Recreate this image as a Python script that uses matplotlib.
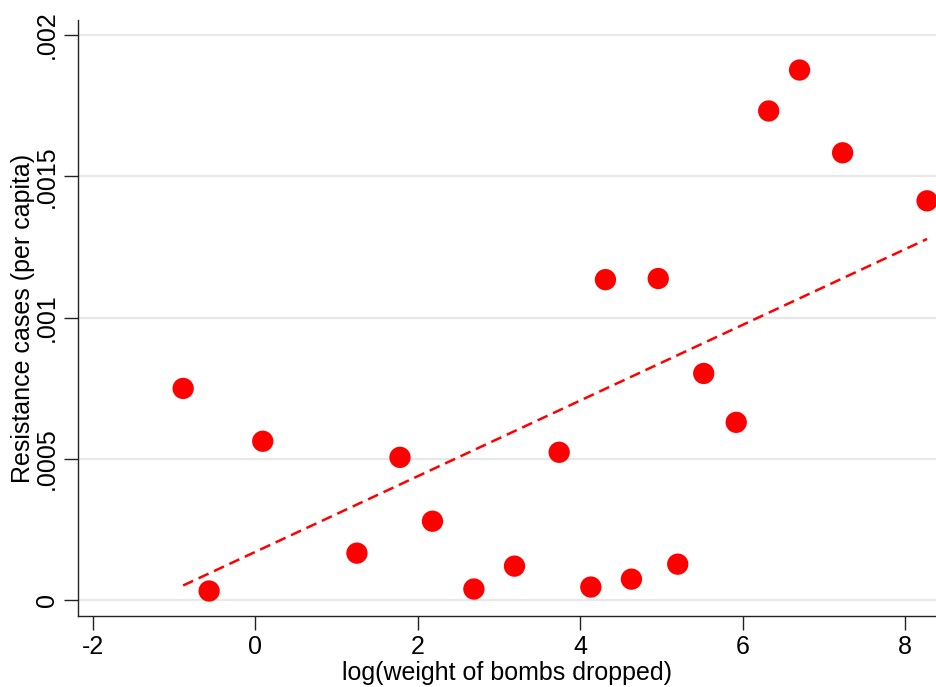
import matplotlib
matplotlib.use("Agg")
import matplotlib.pyplot as plt

# log(weight of bombs dropped) vs resistance cases per capita
log_bombs = [-0.89, -0.57, 0.09, 1.25, 1.78, 2.18, 2.69, 3.19, 3.74, 4.13,
             4.31, 4.63, 4.96, 5.20, 5.52, 5.92, 6.32, 6.70, 7.23, 8.27]
resistance = [0.000749, 0.000032, 0.000562, 0.000166, 0.000505, 0.000279,
              0.000039, 0.000120, 0.000523, 0.000046, 0.001134, 0.000074,
              0.001138, 0.000127, 0.000802, 0.000629, 0.001731, 0.001876,
              0.001583, 0.001413]

# fitted line endpoints
fit_x = [-0.89, 8.27]
fit_y = [0.0000515, 0.001278]

x_ticks = [-2, 0, 2, 4, 6, 8]
y_ticks = [0, 0.0005, 0.001, 0.0015, 0.002]
y_tick_labels = ["0", ".0005", ".001", ".0015", ".002"]

plt.rcParams['font.family'] = ['Liberation Sans', 'DejaVu Sans']
plt.rcParams['axes.unicode_minus'] = False

fig = plt.figure(figsize=(9.36, 6.87), dpi=100)
ax = fig.add_axes([0.0833, 0.1033, 0.9167, 0.8676])

ax.plot(fit_x, fit_y, color='red', lw=1.8, dashes=(4.4, 2.4), zorder=3)
ax.scatter(log_bombs, resistance, s=235, color='red', edgecolors='none', zorder=4)

ax.set_xlim(-2.185, 8.38)
ax.set_ylim(-0.0000566, 0.002053)

ax.set_xticks(x_ticks)
ax.set_yticks(y_ticks)
ax.set_yticklabels(y_tick_labels, rotation=90, va='center')
ax.tick_params(axis='both', labelsize=18, length=10, width=1.0, direction='out', color='#222222')
ax.tick_params(axis='y', pad=4)
ax.tick_params(axis='x', pad=4)

ax.yaxis.grid(True, color='#e8e8e8', lw=1.6)
ax.set_axisbelow(True)

for side in ['top', 'right']:
    ax.spines[side].set_visible(False)
for side in ['left', 'bottom']:
    ax.spines[side].set_linewidth(1.0)
    ax.spines[side].set_color('#222222')

ax.set_xlabel("log(weight of bombs dropped)", fontsize=18, labelpad=1)
ax.set_ylabel("Resistance cases (per capita)", fontsize=18, labelpad=0)

fig.savefig("out.png", dpi=100)
